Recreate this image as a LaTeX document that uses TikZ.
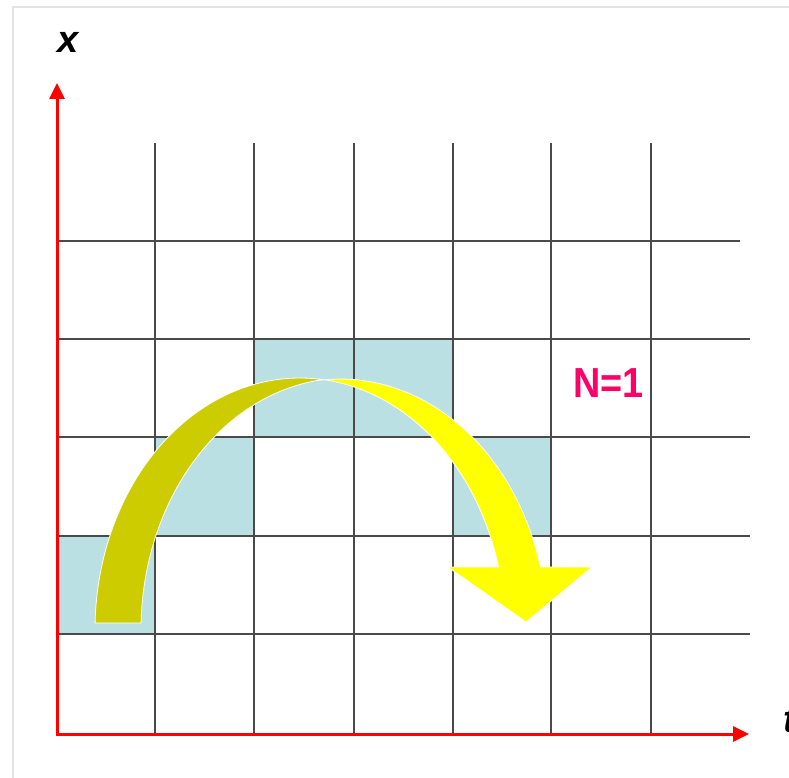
\documentclass[tikz,border=0pt]{standalone}
\usepackage{fontspec}
\usepackage{graphicx}
\setsansfont{Liberation Sans}
\usetikzlibrary{arrows.meta}
\definecolor{cellblue}{HTML}{BBE0E3}
\definecolor{olivearrow}{HTML}{CCCC00}
\definecolor{yellowarrow}{HTML}{FFFF00}
\definecolor{gridgray}{HTML}{4A4A4A}
\definecolor{framegray}{HTML}{E3E3E3}
\definecolor{pinklabel}{HTML}{FF0066}
\begin{document}
\begin{tikzpicture}[x=1pt,y=-1pt,
  gridline/.style={draw=gridgray, line width=1.2pt},
  cell/.style={fill=cellblue},
  axisline/.style={draw=red, line width=3pt, line join=miter,
    {Triangle[length=16pt,width=15pt]}-{Triangle[length=16pt,width=15pt]}},
  axlbl/.style={font=\sffamily\bfseries\itshape\fontsize{38}{38}\selectfont, inner sep=0pt, anchor=base west},
  nlbl/.style={font=\sffamily\bfseries\fontsize{42}{42}\selectfont, text=pinklabel, inner sep=0pt, anchor=base west},
  bandpart/.style={draw=white, line width=0.8pt},
  framestyle/.style={draw=framegray, line width=2pt}]
\useasboundingbox (0,0) rectangle (789,778);
% frame
\draw[framestyle] (12.5,778) -- (12.5,7.5) -- (789,7.5);
% shaded cells
\fill[cell] (57,536) rectangle (155,634);
\fill[cell] (155,437) rectangle (254,536);
\fill[cell] (254,339) rectangle (453,437);
\fill[cell] (453,437) rectangle (551,536);
% grid
\foreach \gx in {155,254,354,453,551,651} \draw[gridline] (\gx,143) -- (\gx,734);
\draw[gridline] (57,241) -- (740,241);
\foreach \gy in {339,437,536,634} \draw[gridline] (57,\gy) -- (750,\gy);
% curved arrow: back (olive) part
\fill[olivearrow, bandpart]
  plot[domain=181.6:276.4, samples=90] ({300+205*cos(\x)},{630+252*sin(\x)})
  -- plot[domain=263.6:181.6, samples=90] ({346+205*cos(\x)},{630+252*sin(\x)}) -- cycle;
% front (yellow) part with head
\fill[yellowarrow, bandpart]
  plot[domain=264.46:345.46, samples=90] ({340+207*cos(\x)},{630+251*sin(\x)})
  -- (592,567) -- (526,622) -- (448,567)
  -- plot[domain=345.52:275.6, samples=90] ({300+205*cos(\x)},{630+252*sin(\x)}) -- cycle;
% axes
\coordinate (O) at (57,734);
\coordinate (xtip) at (57,83);
\coordinate (ttip) at (749,734);
\draw[axisline] (xtip) -- (O) -- (ttip);
% labels
\node[axlbl] (xlabel) at (57,53) {x};
\node[axlbl] (tlabel) at (783,732) {t};
\node[nlbl] (nlabel) at (573,397) {\scalebox{0.9}[1]{N=1}};
\end{tikzpicture}
\end{document}
